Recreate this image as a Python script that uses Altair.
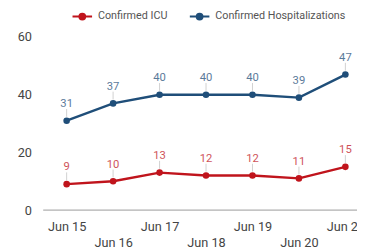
import json
import altair as alt
import pandas as pd

dates = ["Jun 15", "Jun 16", "Jun 17", "Jun 18", "Jun 19", "Jun 20", "Jun 21"]
series_names = ["Confirmed ICU", "Confirmed Hospitalizations"]
icu = [9, 10, 13, 12, 12, 11, 15]
hosp = [31, 37, 40, 40, 40, 39, 47]
colors = ["#c0141c", "#1f4e79"]

rows = []
for i, d in enumerate(dates):
    rows.append({"i": i, "date": d, "series": series_names[0], "value": icu[i]})
    rows.append({"i": i, "date": d, "series": series_names[1], "value": hosp[i]})
df = pd.DataFrame(rows)

lbl = json.dumps(dates)
label_expr = f"datum.value % 2 == 1 ? ['', {lbl}[datum.value]] : {lbl}[datum.value]"

x = alt.X(
    "i:Q",
    scale=alt.Scale(domain=[-0.505, 6.25], nice=False, zero=False),
    axis=alt.Axis(
        title=None, values=list(range(len(dates))), labelExpr=label_expr,
        domain=False, ticks=False, grid=False, labelFlush=False, labelOverlap=False,
        labelPadding=11, labelLineHeight=16, labelFontSize=13, labelColor="#444444",
        labelFont="Roboto",
    ),
)
y = alt.Y(
    "value:Q",
    scale=alt.Scale(domain=[0, 60], nice=False),
    axis=alt.Axis(
        title=None, values=[0, 20, 40, 60], domain=False, ticks=False, grid=False,
        labelPadding=12, labelFontSize=13, labelColor="#444444", labelFont="Roboto",
    ),
)
color = alt.Color(
    "series:N",
    scale=alt.Scale(domain=series_names, range=colors),
    sort=series_names,
    legend=alt.Legend(
        title=None, orient="none", direction="horizontal", legendX=29, legendY=-32,
        symbolType="M-1,0H1M-0.3,0A0.3,0.3,0,1,0,0.3,0A0.3,0.3,0,1,0,-0.3,0Z",
        symbolSize=400, symbolStrokeWidth=2, symbolOpacity=1, labelFontSize=11,
        labelColor="#555555", labelFont="Roboto", columnPadding=18, labelOffset=5,
    ),
)

base = alt.Chart(df).encode(x=x, y=y, color=color)

zero = alt.Chart(pd.DataFrame({"z": [0]})).mark_rule(color="#9a9a9a", strokeWidth=1).encode(y="z:Q")
lines = base.mark_line(strokeWidth=2.5)
points = base.mark_circle(size=45, opacity=1)
leaders = base.mark_rule(strokeWidth=1, yOffset=-12, y2Offset=-4).encode(
    y2="value:Q", color=alt.value("#d0d0d0")
)
texts = base.mark_text(dy=-17, fontSize=11.5, font="Roboto", opacity=0.75).encode(text="value:Q")

chart = alt.layer(zero, lines, leaders, points, texts).properties(
    width=321, height=177,
    autosize=alt.AutoSizeParams(type="none"),
    padding={"left": 36, "top": 27, "right": 0, "bottom": 35},
).configure_view(stroke=None)

chart.save("out.html", embed_options={"renderer": "svg", "actions": False})
